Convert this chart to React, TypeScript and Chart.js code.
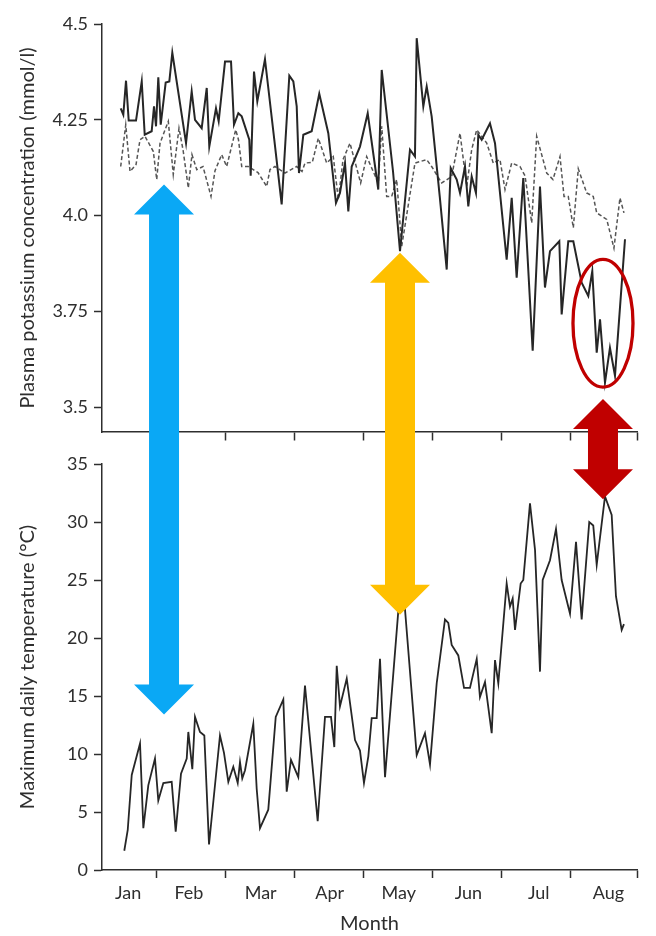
import React, { useEffect, useRef } from 'react';
import { Chart, registerables } from 'chart.js';

Chart.register(...registerables);

// ---------- data (x = months since 1 Jan, fractional) ----------
const monthNames = ['Jan', 'Feb', 'Mar', 'Apr', 'May', 'Jun', 'Jul', 'Aug'];
const monthLabelAt = [0.59, 1.47, 2.51, 3.51, 4.51, 5.52, 6.54, 7.55];
const xMin = 0.21;
const xMax = 7.964;
const monthBoundaries = [1, 2, 3, 4, 5, 6, 7, xMax];

const potassiumTicks = [3.5, 3.75, 4.0, 4.25, 4.5];
const potassiumTickLabels = ['3.5', '3.75', '4.0', '4.25', '4.5'];
const potassiumMin = 3.435;
const potassiumMax = 4.5;

const temperatureTicks = [0, 5, 10, 15, 20, 25, 30, 35];
const temperatureTickLabels = ['0', '5', '10', '15', '20', '25', '30', '35'];

// solid line: plasma potassium (mmol/l)
const potassiumSolid: [number, number][] = [
  [0.481, 4.28], [0.519, 4.263], [0.558, 4.352], [0.597, 4.248], [0.703, 4.248], [0.786, 4.35], [0.829, 4.211], [0.93, 4.22], [0.964, 4.285], [0.993, 4.233],
  [1.026, 4.361], [1.061, 4.237], [1.133, 4.347], [1.186, 4.35], [1.229, 4.425], [1.428, 4.189], [1.51, 4.324], [1.558, 4.25], [1.655, 4.228], [1.728, 4.333],
  [1.765, 4.18], [1.862, 4.28], [1.901, 4.246], [1.993, 4.402], [2.08, 4.402], [2.123, 4.237], [2.186, 4.267], [2.235, 4.259], [2.345, 4.198], [2.365, 4.104],
  [2.413, 4.376], [2.461, 4.298], [2.572, 4.408], [2.707, 4.198], [2.814, 4.029], [2.925, 4.365], [2.983, 4.35], [3.032, 4.285], [3.065, 4.111], [3.128, 4.211],
  [3.249, 4.22], [3.359, 4.318], [3.49, 4.215], [3.601, 4.033], [3.659, 4.059], [3.732, 4.137], [3.78, 4.011], [3.829, 4.128], [3.949, 4.18], [4.061, 4.267],
  [4.214, 4.068], [4.264, 4.38], [4.428, 4.115], [4.529, 3.907], [4.674, 4.172], [4.746, 4.154], [4.771, 4.463], [4.867, 4.285], [4.916, 4.337], [4.988, 4.259],
  [5.105, 4.05], [5.206, 3.859], [5.264, 4.124], [5.351, 4.094], [5.399, 4.059], [5.471, 4.128], [5.519, 4.024], [5.568, 4.102], [5.63, 4.059], [5.664, 4.211],
  [5.713, 4.198], [5.833, 4.241], [5.906, 4.189], [6.075, 3.885], [6.148, 4.046], [6.22, 3.838], [6.316, 4.098], [6.452, 3.647], [6.558, 4.076], [6.63, 3.812],
  [6.703, 3.907], [6.838, 3.933], [6.872, 3.742], [6.968, 3.933], [7.041, 3.933], [7.162, 3.825], [7.258, 3.79], [7.316, 3.855], [7.38, 3.642], [7.428, 3.729],
  [7.5, 3.564], [7.572, 3.655], [7.645, 3.582], [7.79, 3.938],
];

// dashed line: plasma potassium (mmol/l)
const potassiumDashed: [number, number][] = [
  [0.481, 4.128], [0.554, 4.237], [0.616, 4.115], [0.703, 4.133], [0.761, 4.198], [0.833, 4.207], [0.954, 4.167], [1.003, 4.094], [1.051, 4.189], [1.171, 4.246],
  [1.243, 4.107], [1.326, 4.228], [1.384, 4.172], [1.461, 4.072], [1.514, 4.159], [1.583, 4.12], [1.674, 4.128], [1.79, 4.05], [1.848, 4.117], [1.945, 4.159],
  [2.017, 4.128], [2.148, 4.224], [2.188, 4.198], [2.235, 4.128], [2.33, 4.128], [2.471, 4.112], [2.597, 4.076], [2.645, 4.12], [2.717, 4.128], [2.862, 4.111],
  [3.032, 4.128], [3.109, 4.115], [3.152, 4.137], [3.258, 4.139], [3.345, 4.202], [3.467, 4.137], [3.562, 4.154], [3.635, 4.042], [3.703, 4.146], [3.804, 4.189],
  [3.959, 4.085], [4.046, 4.154], [4.214, 4.085], [4.264, 4.233], [4.336, 4.05], [4.409, 4.05], [4.481, 4.094], [4.554, 3.92], [4.746, 4.137], [4.916, 4.146],
  [4.988, 4.128], [5.133, 4.085], [5.278, 4.102], [5.399, 4.215], [5.496, 4.076], [5.568, 4.172], [5.641, 4.224], [5.786, 4.189], [5.881, 4.137], [5.978, 4.146],
  [6.051, 4.068], [6.148, 4.137], [6.268, 4.128], [6.341, 4.104], [6.438, 3.981], [6.51, 4.207], [6.655, 4.111], [6.746, 4.094], [6.848, 4.154], [6.906, 4.05],
  [6.968, 4.05], [7.041, 3.968], [7.113, 4.122], [7.235, 4.059], [7.33, 4.05], [7.38, 4.007], [7.442, 4.0], [7.525, 3.99], [7.63, 3.915], [7.717, 4.046],
  [7.775, 4.007],
];

// maximum daily temperature (°C)
const temperature: [number, number][] = [
  [0.533, 1.66], [0.583, 3.45], [0.641, 8.19], [0.761, 10.9], [0.809, 3.6], [0.881, 7.3], [0.978, 9.6], [1.026, 6.0], [1.099, 7.5], [1.22, 7.6],
  [1.278, 3.3], [1.355, 8.3], [1.438, 9.6], [1.461, 11.9], [1.519, 8.7], [1.558, 13.2], [1.63, 11.9], [1.693, 11.6], [1.761, 2.2], [1.92, 11.6],
  [1.978, 10.1], [2.041, 7.6], [2.113, 8.9], [2.177, 7.5], [2.21, 9.3], [2.243, 7.9], [2.283, 8.6], [2.403, 12.6], [2.452, 7.0], [2.5, 3.6],
  [2.62, 5.2], [2.728, 13.2], [2.838, 14.7], [2.887, 6.75], [2.949, 9.5], [3.055, 8.0], [3.152, 15.9], [3.336, 4.2], [3.442, 13.2], [3.529, 13.2],
  [3.577, 10.6], [3.612, 17.6], [3.659, 14.1], [3.757, 16.5], [3.877, 11.2], [3.949, 10.3], [4.007, 7.5], [4.07, 9.8], [4.119, 13.1], [4.191, 13.1],
  [4.239, 18.2], [4.312, 8.0], [4.504, 22.3], [4.601, 22.5], [4.771, 9.9], [4.891, 11.8], [4.964, 9.1], [5.061, 16.1], [5.181, 21.6], [5.229, 21.3],
  [5.278, 19.4], [5.374, 18.5], [5.457, 15.7], [5.543, 15.7], [5.641, 18.2], [5.688, 14.9], [5.761, 16.2], [5.858, 11.8], [5.906, 18.1], [5.954, 16.1],
  [6.075, 24.7], [6.123, 22.7], [6.162, 23.4], [6.196, 20.7], [6.278, 24.7], [6.316, 25.0], [6.413, 31.6], [6.486, 27.6], [6.558, 17.1], [6.597, 25.0],
  [6.703, 26.7], [6.79, 29.4], [6.872, 25.0], [6.993, 22.1], [7.08, 28.3], [7.162, 21.6], [7.272, 30.0], [7.33, 29.7], [7.38, 26.3], [7.5, 32.2],
  [7.597, 30.6], [7.659, 23.6], [7.742, 20.7], [7.775, 21.2],
];

// annotation arrows (double-headed): x position, tip on potassium axis, tip on temperature axis
const arrowX = [1.109, 4.529, 7.471];
const arrowTopPotassium = [4.081, 3.903, 3.521];
const arrowBottomTemperature = [13.4, 22.0, 31.96];
const arrowColors = ['#0AA8F5', '#FFC000', '#C00000'];

// highlighted region (ellipse): centre and radii in data units
const ellipseCenter: [number, number] = [7.471, 3.719];
const ellipseRadii: [number, number] = [0.435, 0.1667];

// ---------- styles ----------
const INK = '#262626';
const AXIS = '#2e2e2e';
const FONT = 'Lato';

function drawDoubleArrow(ctx: CanvasRenderingContext2D, cx: number, top: number, bot: number, color: string) {
  const hs = 15; // half shaft
  const hh = 30; // half head
  const hl = 30; // head length
  ctx.beginPath();
  ctx.moveTo(cx, top);
  ctx.lineTo(cx + hh, top + hl);
  ctx.lineTo(cx + hs, top + hl);
  ctx.lineTo(cx + hs, bot - hl);
  ctx.lineTo(cx + hh, bot - hl);
  ctx.lineTo(cx, bot);
  ctx.lineTo(cx - hh, bot - hl);
  ctx.lineTo(cx - hs, bot - hl);
  ctx.lineTo(cx - hs, top + hl);
  ctx.lineTo(cx - hh, top + hl);
  ctx.closePath();
  ctx.fillStyle = color;
  ctx.fill();
}

const annotationPlugin = {
  id: 'annotations',
  beforeDraw(chart: any) {
    const { ctx, width, height } = chart;
    ctx.save();
    ctx.fillStyle = '#ffffff';
    ctx.fillRect(0, 0, width, height);
    ctx.restore();
  },
  afterDatasetsDraw(chart: any) {
    const { ctx, scales } = chart;
    const xs = scales.x;
    const yK = scales.yK;
    const yT = scales.yT;
    ctx.save();
    arrowX.forEach((ax, i) => {
      const cx = xs.getPixelForValue(ax);
      const top = yK.getPixelForValue(arrowTopPotassium[i]);
      const bot = yT.getPixelForValue(arrowBottomTemperature[i]);
      drawDoubleArrow(ctx, cx, top, bot, arrowColors[i]);
    });
    const ex = xs.getPixelForValue(ellipseCenter[0]);
    const ey = yK.getPixelForValue(ellipseCenter[1]);
    const rx = Math.abs(xs.getPixelForValue(ellipseCenter[0] + ellipseRadii[0]) - ex);
    const ry = Math.abs(yK.getPixelForValue(ellipseCenter[1] + ellipseRadii[1]) - ey);
    ctx.beginPath();
    ctx.ellipse(ex, ey, rx, ry, 0, 0, Math.PI * 2);
    ctx.strokeStyle = '#C00000';
    ctx.lineWidth = 3.3;
    ctx.stroke();
    ctx.restore();
  },
};

const toPoints = (arr: [number, number][]) => arr.map(([x, y]) => ({ x, y }));

export default function App() {
  const ref = useRef<HTMLCanvasElement | null>(null);

  useEffect(() => {
    if (!ref.current) return;
    const tickFont = { family: FONT, size: 18 };
    const titleFont = { family: FONT, size: 20 };
    const chart = new Chart(ref.current, {
      type: 'line',
      data: {
        datasets: [
          {
            label: 'Potassium (solid)',
            data: toPoints(potassiumSolid),
            xAxisID: 'x',
            yAxisID: 'yK',
            borderColor: INK,
            borderWidth: 2,
            pointRadius: 0,
            tension: 0,
          },
          {
            label: 'Potassium (dashed)',
            data: toPoints(potassiumDashed),
            xAxisID: 'x',
            yAxisID: 'yK',
            borderColor: '#555555',
            borderWidth: 1.5,
            borderDash: [4, 2.5],
            pointRadius: 0,
            tension: 0,
          },
          {
            label: 'Temperature',
            data: toPoints(temperature),
            xAxisID: 'x',
            yAxisID: 'yT',
            borderColor: INK,
            borderWidth: 1.8,
            pointRadius: 0,
            tension: 0,
          },
        ],
      },
      options: {
        animation: false,
        responsive: false,
        devicePixelRatio: 1,
        layout: { padding: { top: 24, right: 19, left: 0, bottom: 0 } },
        plugins: { legend: { display: false }, tooltip: { enabled: false } },
        scales: {
          x: {
            type: 'linear',
            axis: 'x',
            position: 'bottom',
            min: xMin,
            max: xMax,
            afterBuildTicks: (s: any) => {
              s.ticks = [...monthBoundaries, ...monthLabelAt].sort((a, b) => a - b).map((v) => ({ value: v }));
            },
            afterFit: (s: any) => {
              s.height = 66;
            },
            ticks: {
              autoSkip: false,
              maxRotation: 0,
              minRotation: 0,
              padding: 4,
              font: tickFont,
              color: AXIS,
              callback: (v: any) => {
                const i = monthLabelAt.indexOf(v);
                return i >= 0 ? monthNames[i] : '';
              },
            },
            grid: {
              drawOnChartArea: false,
              drawTicks: true,
              tickLength: 8,
              tickWidth: 1.5,
              tickColor: (c: any) => (c.tick && monthBoundaries.includes(c.tick.value) ? AXIS : 'rgba(0,0,0,0)'),
            },
            border: { display: true, color: AXIS, width: 1.5 },
            title: { display: true, text: 'Month', font: titleFont, color: AXIS, padding: { top: 0, bottom: 0 } },
          },
          xTop: {
            type: 'linear',
            axis: 'x',
            position: { yK: potassiumMin } as any,
            min: xMin,
            max: xMax,
            afterBuildTicks: (s: any) => {
              s.ticks = monthBoundaries.map((v) => ({ value: v }));
            },
            ticks: { display: false },
            grid: { drawOnChartArea: false, drawTicks: true, tickLength: 8, tickWidth: 1.5, tickColor: AXIS },
            border: { display: true, color: AXIS, width: 1.5 },
          },
          yK: {
            type: 'linear',
            axis: 'y',
            position: 'left',
            stack: 'panels',
            stackWeight: 408,
            weight: 3,
            min: potassiumMin,
            max: potassiumMax,
            afterBuildTicks: (s: any) => {
              s.ticks = potassiumTicks.map((v) => ({ value: v }));
            },
            afterFit: (s: any) => {
              s.width = 102;
            },
            ticks: {
              padding: 6,
              font: tickFont,
              color: AXIS,
              callback: (v: any) => potassiumTickLabels[potassiumTicks.indexOf(v)] ?? '',
            },
            grid: { drawOnChartArea: false, drawTicks: true, tickLength: 8, tickWidth: 1.5, tickColor: AXIS },
            border: { display: true, color: AXIS, width: 1.5 },
            title: {
              display: true,
              text: 'Plasma potassium concentration (mmol/l)',
              font: titleFont,
              color: AXIS,
              padding: { top: 16, bottom: 0 },
            },
          },
          yGap: {
            type: 'linear',
            axis: 'y',
            position: 'left',
            stack: 'panels',
            stackWeight: 32,
            weight: 2,
            display: false,
            min: 0,
            max: 1,
          },
          yT: {
            type: 'linear',
            axis: 'y',
            position: 'left',
            stack: 'panels',
            stackWeight: 406,
            weight: 1,
            min: 0,
            max: 35,
            afterBuildTicks: (s: any) => {
              s.ticks = temperatureTicks.map((v) => ({ value: v }));
            },
            afterFit: (s: any) => {
              s.width = 102;
            },
            ticks: {
              padding: 6,
              font: tickFont,
              color: AXIS,
              callback: (v: any) => temperatureTickLabels[temperatureTicks.indexOf(v)] ?? '',
            },
            grid: { drawOnChartArea: false, drawTicks: true, tickLength: 8, tickWidth: 1.5, tickColor: AXIS },
            border: { display: true, color: AXIS, width: 1.5 },
            title: {
              display: true,
              text: 'Maximum daily temperature (°C)',
              font: titleFont,
              color: AXIS,
              padding: { top: 16, bottom: 0 },
            },
          },
        },
      } as any,
      plugins: [annotationPlugin],
    });
    return () => chart.destroy();
  }, []);

  return (
    <div style={{ position: 'fixed', left: 0, top: 0, width: 656, height: 936, background: '#fff' }}>
      <canvas ref={ref} width={656} height={936} style={{ width: 656, height: 936, display: 'block' }} />
    </div>
  );
}
